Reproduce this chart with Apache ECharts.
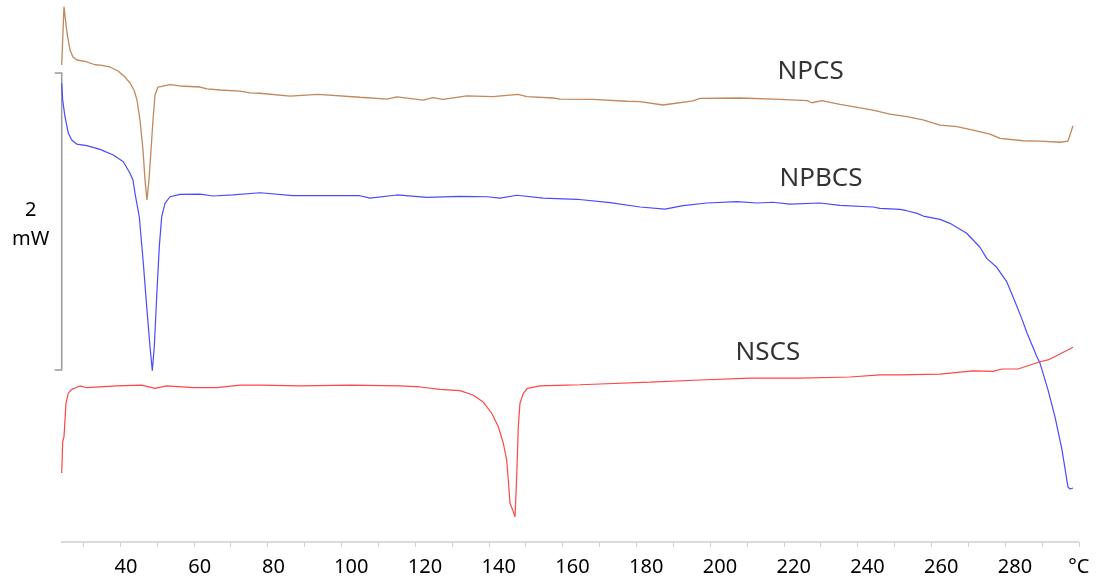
<!DOCTYPE html>
<html>
<head>
<meta charset="utf-8">
<script src="https://cdn.jsdelivr.net/npm/echarts@6/dist/echarts.min.js"></script>
<style>html,body{margin:0;padding:0;background:#fff;}#c{width:1096px;height:582px;}</style>
</head>
<body>
<div id="c"></div>
<script>
// Temperature (°C) and heat flow (mW, arbitrary offset)
const npcsT = [24.19,24.81,25.63,26.44,27.25,28.34,30.51,33.22,34.58,37.29,39.46,41.36,42.71,43.80,44.61,45.42,46.24,46.78,47.32,47.86,48.41,48.95,49.49,50.31,50.85,53.56,56.27,61.69,63.59,67.12,72.54,75.25,77.97,86.1,93.69,105.08,112.4,115.12,122.17,124.88,127.59,134.1,141.15,147.93,150.37,157.42,159.32,168.27,177.49,181.02,187.25,195.39,197.29,208.14,218.98,226.31,227.66,230.37,235.25,244.2,248.81,253.42,257.76,262.37,266.98,271.32,275.93,278.64,284.88,289.49,294.92,297.08,298.44];
const npcsV = [3.212,3.605,3.428,3.313,3.266,3.246,3.236,3.214,3.212,3.199,3.172,3.131,3.091,3.044,2.976,2.842,2.640,2.438,2.303,2.438,2.640,2.842,3.010,3.064,3.074,3.080,3.071,3.064,3.051,3.044,3.037,3.024,3.022,3.003,3.015,2.995,2.983,2.997,2.976,2.992,2.981,3.005,2.999,3.015,2.999,2.990,2.983,2.981,2.968,2.965,2.943,2.970,2.988,2.990,2.981,2.972,2.958,2.972,2.947,2.909,2.882,2.864,2.842,2.808,2.797,2.774,2.747,2.718,2.702,2.700,2.692,2.700,2.803];

const npbcsT = [24.19,24.46,25.08,25.98,26.90,28.26,30.97,34.58,38.18,40.90,42.71,43.53,44.07,45.23,46.32,47.24,48.14,48.76,49.30,49.95,50.66,51.31,52.20,53.56,56.27,61.69,65.22,70.64,77.97,86.92,105.08,107.8,115.12,123.25,132.2,139.5,143.05,147.66,154.71,163.93,172.88,181.02,187.8,192.68,199.19,207.32,212.75,217.08,221.69,229.83,235.25,244.2,246.1,251.53,253.34,256.14,257.84,262.37,265.08,269.61,273.22,275.04,277.75,280.46,282.17,284.53,285.97,288.68,289.49,291.66,293.56,295.46,297.08,297.63,298.44];
const npbcsV = [3.089,2.976,2.864,2.754,2.707,2.680,2.669,2.644,2.606,2.561,2.483,2.438,2.348,2.190,1.879,1.585,1.315,1.154,1.315,1.652,1.989,2.191,2.281,2.325,2.341,2.343,2.330,2.337,2.352,2.332,2.332,2.316,2.337,2.321,2.328,2.325,2.316,2.335,2.316,2.308,2.285,2.256,2.242,2.265,2.283,2.292,2.283,2.288,2.276,2.283,2.267,2.256,2.247,2.240,2.231,2.213,2.195,2.173,2.146,2.079,1.985,1.910,1.850,1.753,1.652,1.506,1.407,1.246,1.205,1.024,0.842,0.620,0.370,0.357,0.364];

const nscsT = [24.19,24.46,24.81,25.36,25.98,26.90,29.15,30.97,39.11,45.88,49.49,52.66,59.80,66.22,72.54,77.97,88.8,102.4,115.9,121.4,126.78,132.2,135.7,138.4,140.8,142.6,143.95,144.86,145.3,145.76,146.49,147.12,147.58,148.01,148.47,149.37,150.45,153.9,161.14,164.75,170.17,183.73,197.29,210.85,224.41,237.97,246.1,251.53,262.37,271.32,276.75,279.19,283.53,289.49,291.66,294.37,298.44];
const nscsV = [0.465,0.675,0.709,0.936,1.003,1.028,1.051,1.039,1.051,1.057,1.035,1.051,1.039,1.039,1.057,1.057,1.051,1.057,1.051,1.044,1.028,1.019,0.990,0.945,0.867,0.776,0.665,0.552,0.418,0.261,0.215,0.170,0.440,0.776,0.934,1.001,1.035,1.051,1.057,1.059,1.064,1.077,1.091,1.104,1.104,1.111,1.125,1.125,1.131,1.152,1.149,1.165,1.165,1.214,1.226,1.259,1.311];

// Series name labels: [temperature, heat flow, text]
const seriesLabels = [[227.3, 3.165, 'NPCS'], [230.1, 2.444, 'NPBCS'], [215.7, 1.273, 'NSCS']];
// Scale bar: at temperature, from / to (2 mW span)
const scaleBarT = [24.19];
const scaleBarRange = [1.158, 3.158];
const scaleBarText = '2\nmW';

const tickValues = [30,40,50,60,70,80,90,100,110,120,130,140,150,160,170,180,190,200,210,220,230,240,250,260,270,280,290,300];
const labelValues = [40,60,80,100,120,140,160,180,200,220,240,260,280,300];

function pairs(t, v) { return t.map((x, i) => [x, v[i]]); }

const FONT = '"Noto Sans", "DejaVu Sans", sans-serif';
const chart = echarts.init(document.getElementById('c'), null, {renderer: 'canvas'});
const lineBase = {type: 'line', showSymbol: false, symbol: 'none', clip: false, smooth: false, animation: false};

chart.setOption({
  animation: false,
  backgroundColor: '#ffffff',
  grid: {left: 61.37, right: 17.25, top: 0, bottom: 40, containLabel: false},
  xAxis: {
    type: 'value', min: 24.1, max: 300,
    axisLine: {show: true, lineStyle: {color: '#cfcfcf', width: 1.5}},
    axisTick: {show: true, customValues: tickValues, length: 5, inside: false, lineStyle: {color: '#cfcfcf', width: 1}},
    splitLine: {show: false},
    axisLabel: {
      customValues: labelValues, margin: 15, color: '#000', fontSize: 20, fontFamily: FONT,
      formatter: function (v) {
        if (v === 300) return '{c|°C}';
        return (v >= 100 ? '{b|' : '{a|') + v + '}';
      },
      rich: {
        a: {padding: [0, 0, 0, 12], fontSize: 20, fontFamily: FONT, color: '#000'},
        b: {padding: [0, 0, 0, 20], fontSize: 20, fontFamily: FONT, color: '#000'},
        c: {fontSize: 20, fontFamily: FONT, color: '#000'}
      }
    }
  },
  yAxis: {type: 'value', min: 0, max: 3.65, show: false},
  series: [
    Object.assign({}, lineBase, {name: 'NPCS', data: pairs(npcsT, npcsV), lineStyle: {color: '#c3875a', width: 1.3}}),
    Object.assign({}, lineBase, {name: 'NPBCS', data: pairs(npbcsT, npbcsV), lineStyle: {color: '#4a4aff', width: 1.2}}),
    Object.assign({}, lineBase, {name: 'NSCS', data: pairs(nscsT, nscsV), lineStyle: {color: '#ff4545', width: 1.2}}),
    {
      type: 'scatter', data: seriesLabels, symbolSize: 0, clip: false, silent: true,
      label: {show: true, position: 'inside', formatter: p => p.data[2], color: '#000', fontSize: 26, fontFamily: FONT}
    },
    {
      type: 'custom', clip: false, silent: true,
      data: [[scaleBarT[0], scaleBarRange[0], scaleBarRange[1]]],
      renderItem: function (params, api) {
        const x = api.value(0);
        const lo = api.coord([x, api.value(1)]);
        const hi = api.coord([x, api.value(2)]);
        return {
          type: 'group',
          children: [
            {type: 'polyline', shape: {points: [[hi[0] - 7, hi[1]], [hi[0], hi[1]], [lo[0], lo[1]], [lo[0] - 7, lo[1]]]},
             style: {stroke: '#9a9a9a', lineWidth: 1.5, fill: null}},
            {type: 'text', style: {text: scaleBarText, x: hi[0] - 31, y: (hi[1] + lo[1]) / 2 + 3, align: 'center', verticalAlign: 'middle',
             font: '20px ' + FONT, lineHeight: 29, fill: '#000'}}
          ]
        };
      }
    }
  ]
});
</script>
</body>
</html>
